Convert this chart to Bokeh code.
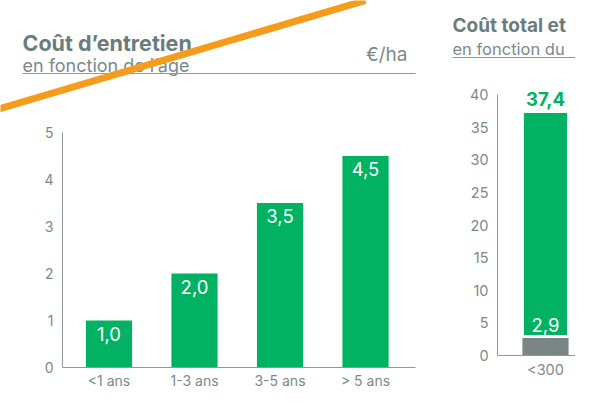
from bokeh.plotting import figure
from bokeh.models import Range1d, LinearAxis, FixedTicker, Slope
from bokeh.layouts import row
from bokeh.core.properties import value
from bokeh.embed import file_html
from bokeh.resources import INLINE

# ---- data ----
age_labels = ["<1 ans", "1-3 ans", "3-5 ans", "> 5 ans"]
entretien = [1.0, 2.0, 3.5, 4.5]          # €/ha
left_ticks = [0, 1, 2, 3, 4, 5]

vol_labels = ["<300"]
cout_entretien = [2.9]
cout_total = [37.4]
right_ticks = [0, 5, 10, 15, 20, 25, 30, 35, 40]

# ---- styles ----
FONT = "Inter"
GREEN = "#00b262"
GREYBAR = "#7a8586"
TITLE_C = "#6b7c7c"
TEXT_C = "#7b8a8a"
AXIS_C = "#8d9a9a"
ORANGE = "#f59c1c"


def fmt(v):
    return f"{v:.1f}".replace(".", ",")


def base_fig(w, h, xr, yr):
    p = figure(width=w, height=h, x_range=Range1d(*xr), y_range=Range1d(*yr),
               output_backend="svg", toolbar_location=None,
               x_axis_type=None, y_axis_type=None, min_border=0,
               outline_line_color=None, background_fill_color="white",
               border_fill_color="white")
    return p


def style_axis(ax, size):
    ax.axis_line_color = AXIS_C
    ax.axis_line_width = 1
    ax.major_tick_line_color = None
    ax.minor_tick_line_color = None
    ax.major_tick_out = 0
    ax.major_tick_in = 0
    ax.major_label_text_color = TEXT_C
    ax.major_label_text_font = FONT
    ax.major_label_text_font_size = size


# ================= left panel =================
idx = list(range(len(age_labels)))
p1 = base_fig(440, 390, (-1.269, 3.877), (-0.489, 7.809))

ya = LinearAxis(fixed_location=-0.544, bounds=(0, 5),
                ticker=FixedTicker(ticks=left_ticks))
style_axis(ya, "14px")
ya.major_label_standoff = 9
p1.add_layout(ya, "left")

xa = LinearAxis(fixed_location=0, bounds=(-0.544, 3.585),
                ticker=FixedTicker(ticks=idx),
                major_label_overrides={i: lab for i, lab in zip(idx, age_labels)})
style_axis(xa, "14px")
xa.major_label_standoff = 4
p1.add_layout(xa, "below")

p1.vbar(x=idx, top=entretien, width=0.54, fill_color=GREEN, line_color=None)
p1.text(x=idx, y=entretien, text=[fmt(v) for v in entretien],
        text_align="center", text_baseline="middle", y_offset=13,
        text_color="white", text_font=value(FONT), text_font_size="18.5px")

p1.text(x=[-1.012], y=[6.915], text=["Coût d’entretien"], text_align="left",
        text_baseline="alphabetic", text_color=TITLE_C, text_font=value(FONT),
        text_font_size="21.5px", text_font_style="bold")
p1.text(x=[-1.012], y=[6.43], text=["en fonction de l’âge"], text_align="left",
        text_baseline="alphabetic", text_color=TEXT_C, text_font=value(FONT),
        text_font_size="18px")
p1.text(x=[3.491], y=[6.66], text=["€/ha"], text_align="right",
        text_baseline="alphabetic", text_color=TEXT_C, text_font=value(FONT),
        text_font_size="19px")
p1.segment(x0=[-1.012], y0=[6.255], x1=[3.585], y1=[6.255],
           line_color=AXIS_C, line_width=1)

p1.add_layout(Slope(gradient=0.5385, y_intercept=6.194,
                    line_color=ORANGE, line_width=7))

# ================= right panel =================
ridx = list(range(len(vol_labels)))
p2 = base_fig(135, 390, (-1.228, 0.351), (-5.364, 54.41))

ya2 = LinearAxis(fixed_location=-0.561, bounds=(0, 40),
                 ticker=FixedTicker(ticks=right_ticks))
style_axis(ya2, "14.5px")
ya2.major_label_standoff = 9
p2.add_layout(ya2, "left")

xa2 = LinearAxis(fixed_location=0, bounds=(-0.561, 1.0),
                 ticker=FixedTicker(ticks=ridx),
                 major_label_overrides={i: lab for i, lab in zip(ridx, vol_labels)})
style_axis(xa2, "14.5px")
xa2.major_label_standoff = 5
p2.add_layout(xa2, "below")

p2.vbar(x=ridx, top=cout_entretien, width=0.54, fill_color=GREYBAR, line_color=None)
p2.vbar(x=ridx, bottom=cout_entretien, top=cout_total, width=0.54,
        fill_color=GREEN, line_color="white", line_width=3)
p2.text(x=ridx, y=cout_total, text=[fmt(v) for v in cout_total],
        text_align="center", text_baseline="middle", y_offset=-12,
        text_color=GREEN, text_font=value(FONT), text_font_size="18.5px",
        text_font_style="bold")
p2.text(x=ridx, y=cout_entretien, text=[fmt(v) for v in cout_entretien],
        text_align="center", text_baseline="middle", y_offset=-12,
        text_color="white", text_font=value(FONT), text_font_size="18.5px")

p2.text(x=[-1.088], y=[50.57], text=["Coût total et"], text_align="left",
        text_baseline="alphabetic", text_color=TITLE_C, text_font=value(FONT),
        text_font_size="19px", text_font_style="bold")
p2.text(x=[-1.088], y=[47.05], text=["en fonction du"], text_align="left",
        text_baseline="alphabetic", text_color=TEXT_C, text_font=value(FONT),
        text_font_size="16.5px")
p2.segment(x0=[-1.088], y0=[45.67], x1=[1.0], y1=[45.67],
           line_color=AXIS_C, line_width=1)

layout = row(p1, p2)
open("out.html", "w").write(file_html(layout, INLINE))
